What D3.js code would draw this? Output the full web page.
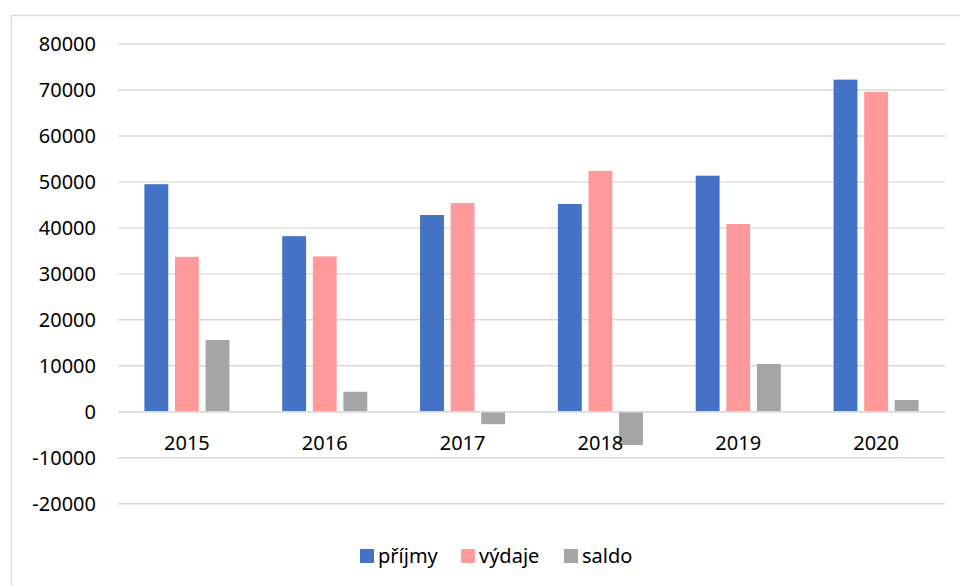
<!DOCTYPE html>
<html>
<head>
<meta charset="utf-8">
<script src="https://cdn.jsdelivr.net/npm/d3@7"></script>
<style>
  html, body { margin: 0; padding: 0; background: #fff; }
  svg { display: block; }
  text { font-family: "Noto Sans", "Open Sans", sans-serif; fill: #000; }
</style>
</head>
<body>
<svg id="chart" width="960" height="586"></svg>
<script>
const categories = ["2015", "2016", "2017", "2018", "2019", "2020"];
const seriesNames = ["příjmy", "výdaje", "saldo"];
const prijmy = [49500, 38200, 42800, 45200, 51350, 72250];
const vydaje = [33700, 33800, 45400, 52400, 40850, 69550];
const saldo  = [15600, 4350, -2700, -7250, 10400, 2550];
const yTicks = [-20000, -10000, 0, 10000, 20000, 30000, 40000, 50000, 60000, 70000, 80000];
const colors = ["#4472C4", "#FF999A", "#A5A5A5"];

const seriesValues = [prijmy, vydaje, saldo];
const svg = d3.select("#chart");

// chart border
svg.append("rect")
  .attr("x", 11.5).attr("y", 15.5)
  .attr("width", 1000).attr("height", 1000)
  .attr("fill", "none").attr("stroke", "#D9D9D9").attr("stroke-width", 1.3);

const plotLeft = 118, plotRight = 945;
const y = d3.scaleLinear().domain([-20000, 80000]).range([503.7, 44]);
const x0 = d3.scaleBand().domain(categories).range([plotLeft, plotRight]).padding(0);
const groupPad = 26.4;
const x1 = d3.scaleBand().domain(seriesNames)
  .range([groupPad, x0.bandwidth() - groupPad])
  .paddingInner(0.22).paddingOuter(0);

// gridlines
svg.append("g").selectAll("line").data(yTicks).join("line")
  .attr("x1", plotLeft).attr("x2", plotRight)
  .attr("y1", d => y(d)).attr("y2", d => y(d))
  .attr("stroke", "#D9D9D9").attr("stroke-width", 1.4);

// y tick labels
svg.append("g").selectAll("text").data(yTicks).join("text")
  .attr("x", 96).attr("y", d => y(d) + 7)
  .attr("text-anchor", "end")
  .attr("font-size", 20)
  .text(d => d);

// bars
const data = [];
categories.forEach((c, i) => {
  seriesNames.forEach((s, j) => {
    data.push({ cat: c, series: s, value: seriesValues[j][i], color: colors[j] });
  });
});
svg.append("g").selectAll("rect").data(data).join("rect")
  .attr("x", d => x0(d.cat) + x1(d.series))
  .attr("width", x1.bandwidth())
  .attr("y", d => y(Math.max(0, d.value)))
  .attr("height", d => Math.abs(y(d.value) - y(0)))
  .attr("fill", d => d.color);

// redraw zero line on top
svg.append("line")
  .attr("x1", plotLeft).attr("x2", plotRight)
  .attr("y1", y(0)).attr("y2", y(0))
  .attr("stroke", "#D9D9D9").attr("stroke-width", 1.4);

// category labels
svg.append("g").selectAll("text").data(categories).join("text")
  .attr("x", d => x0(d) + x0.bandwidth() / 2)
  .attr("y", 450)
  .attr("text-anchor", "middle")
  .attr("font-size", 20)
  .text(d => d);

// legend
const legendItems = [
  { name: seriesNames[0], color: colors[0], x: 360 },
  { name: seriesNames[1], color: colors[1], x: 461 },
  { name: seriesNames[2], color: colors[2], x: 564 }
];
const lg = svg.append("g").selectAll("g").data(legendItems).join("g")
  .attr("transform", d => `translate(${d.x},549)`);
lg.append("rect").attr("width", 14).attr("height", 14).attr("fill", d => d.color);
lg.append("text").attr("x", 18).attr("y", 14).attr("font-size", 20).text(d => d.name);
</script>
</body>
</html>
